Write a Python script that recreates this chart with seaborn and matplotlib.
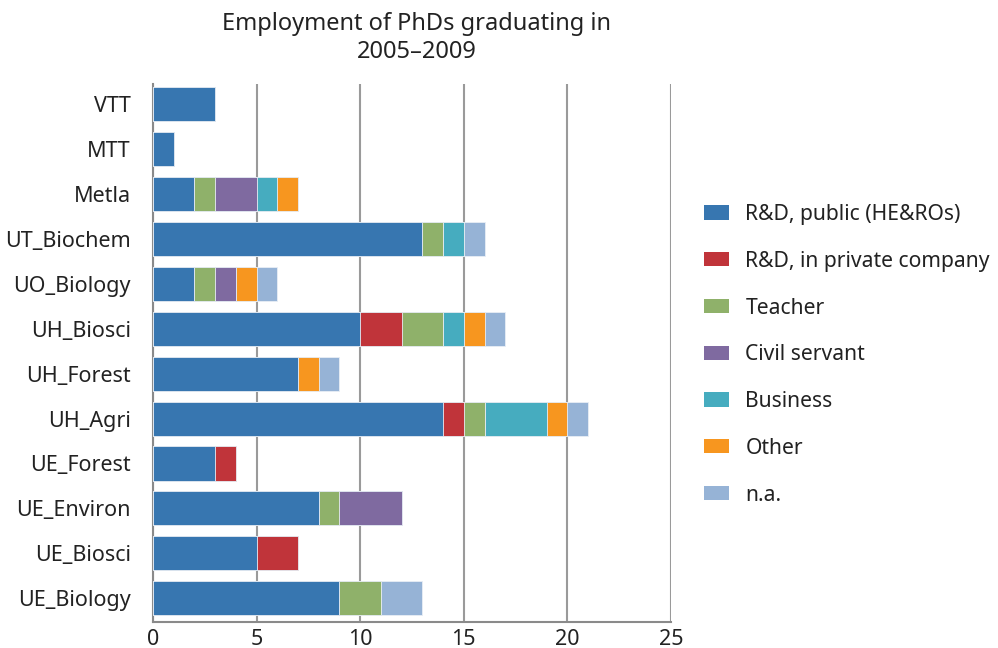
import matplotlib
matplotlib.use("Agg")
import matplotlib.pyplot as plt
import seaborn as sns
import numpy as np
import pandas as pd
from matplotlib.patches import Patch

categories = ["VTT", "MTT", "Metla", "UT_Biochem", "UO_Biology", "UH_Biosci",
              "UH_Forest", "UH_Agri", "UE_Forest", "UE_Environ", "UE_Biosci", "UE_Biology"]
series_names = ["R&D, public (HE&ROs)", "R&D, in private company", "Teacher",
                "Civil servant", "Business", "Other", "n.a."]
rd_public  = [3, 1, 2, 13, 2, 10, 7, 14, 3, 8, 5, 9]
rd_private = [0, 0, 0, 0, 0, 2, 0, 1, 1, 0, 2, 0]
teacher    = [0, 0, 1, 1, 1, 2, 0, 1, 0, 1, 0, 2]
civil      = [0, 0, 2, 0, 1, 0, 0, 0, 0, 3, 0, 0]
business   = [0, 0, 1, 1, 0, 1, 0, 3, 0, 0, 0, 0]
other      = [0, 0, 1, 0, 1, 1, 1, 1, 0, 0, 0, 0]
na         = [0, 0, 0, 1, 1, 1, 1, 1, 0, 0, 0, 2]
colors = ["#3776B0", "#C0343A", "#8FB16A", "#7F6AA0", "#46ACBF", "#F7961F", "#96B3D6"]

series = [rd_public, rd_private, teacher, civil, business, other, na]
cum = np.cumsum(np.array(series, dtype=float), axis=0)

sns.set_style("white")
plt.rcParams["font.family"] = ["Noto Sans", "DejaVu Sans"]

fig = plt.figure(figsize=(9.98, 6.48), dpi=100)
ax = fig.add_axes([153/998, 1-622/648, (671-153)/998, (622-84)/648])

for i in range(len(series) - 1, -1, -1):
    df = pd.DataFrame({"cat": categories, "val": cum[i]})
    sns.barplot(data=df, x="val", y="cat", orient="h", color=colors[i],
                width=0.76, saturation=1, ax=ax, linewidth=0.6,
                edgecolor="#e8eef5", zorder=3)

ax.set_xlim(0, 25)
ax.set_ylim(11.53, -0.45)
ax.set_xticks([0, 5, 10, 15, 20, 25])
ax.xaxis.grid(True, color="#9a9a9a", linewidth=1.5, zorder=0)
ax.yaxis.grid(False)
ax.set_axisbelow(True)
ax.set_xlabel("")
ax.set_ylabel("")
for s in ["top", "right"]:
    ax.spines[s].set_visible(False)
for s in ["left", "bottom"]:
    ax.spines[s].set_visible(True)
    ax.spines[s].set_color("#8a8a8a")
    ax.spines[s].set_linewidth(1.5)
ax.tick_params(axis="both", length=0, labelsize=15.5, colors="#222222")
ax.tick_params(axis="y", pad=16)
ax.tick_params(axis="x", pad=5)

fig.text(417/998, 1-38/648, "Employment of PhDs graduating in\n2005–2009", ha="center",
         va="center", fontsize=17, color="#222222", linespacing=1.25)

handles = [Patch(facecolor=c, edgecolor="none") for c in colors]
leg = fig.legend(handles, series_names, loc="upper left",
                 bbox_to_anchor=(685/998, 1-185/648), frameon=False, fontsize=15.2,
                 handlelength=1.18, handleheight=0.66, handletextpad=0.78,
                 labelspacing=1.22)
for t in leg.get_texts():
    t.set_color("#222222")

fig.savefig("out.png", dpi=100)
